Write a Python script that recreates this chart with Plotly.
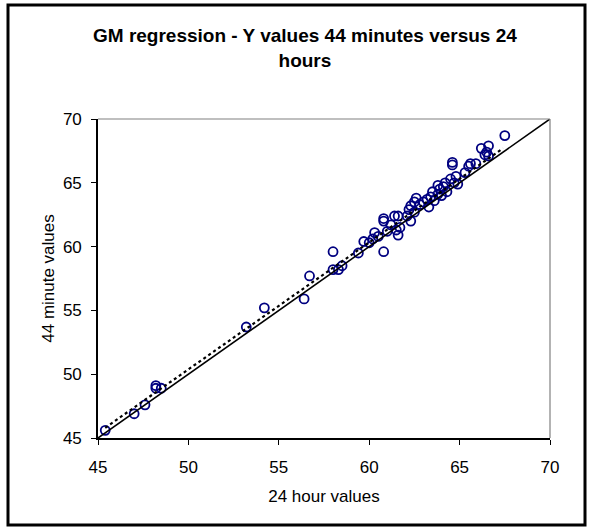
import plotly.graph_objects as go

# 24 hour values (x) and 44 minute values (y)
hours24 = [45.4, 47.0, 47.6, 48.2, 48.2, 48.5, 53.2, 54.2, 56.4, 56.7,
           58.0, 58.0, 58.3, 58.5, 59.4, 59.7, 60.0, 60.2, 60.3, 60.5,
           60.8, 60.8, 60.8, 61.0, 61.2, 61.4, 61.5, 61.6, 61.6, 61.7,
           62.1, 62.2, 62.3, 62.3, 62.5, 62.5, 62.6, 62.8, 63.0, 63.2,
           63.3, 63.4, 63.5, 63.6, 63.8, 63.8, 63.9, 64.0, 64.1, 64.2,
           64.3, 64.5, 64.6, 64.6, 64.7, 64.8, 64.9, 65.3, 65.5, 65.6,
           65.9, 66.2, 66.4, 66.5, 66.6, 66.6, 67.5]
minutes44 = [45.6, 46.9, 47.6, 49.1, 48.9, 48.9, 53.7, 55.2, 55.9, 57.7,
             59.6, 58.2, 58.2, 58.5, 59.5, 60.4, 60.3, 60.6, 61.1, 60.8,
             59.6, 62.0, 62.2, 61.2, 61.7, 62.4, 61.3, 62.4, 60.9, 61.5,
             62.4, 62.9, 62.0, 63.2, 63.5, 62.7, 63.8, 63.3, 63.5, 63.7,
             63.1, 63.9, 64.3, 63.6, 64.8, 64.1, 64.5, 64.0, 64.7, 65.0,
             64.3, 65.3, 66.4, 66.6, 65.0, 65.5, 64.9, 65.8, 66.3, 66.5,
             66.5, 67.7, 67.2, 67.4, 67.9, 67.1, 68.7]

# line of equality and GM regression line end points
identity_x = [45, 70]
identity_y = [45, 70]
gm_x = [45.4, 67.4]
gm_y = [45.8, 67.7]

tick_vals = [45, 50, 55, 60, 65, 70]

fig = go.Figure()
fig.add_trace(go.Scatter(
    x=hours24, y=minutes44, mode="markers",
    marker=dict(symbol="circle-open", size=9, color="#000080",
                line=dict(width=1.8, color="#000080")),
    showlegend=False, cliponaxis=False))
fig.add_trace(go.Scatter(
    x=gm_x, y=gm_y, mode="lines",
    line=dict(color="black", width=2.2, dash="dot"), showlegend=False))
fig.add_trace(go.Scatter(
    x=identity_x, y=identity_y, mode="lines",
    line=dict(color="black", width=1.6), showlegend=False))

W, H = 593, 532
L, R, T, B = 98, 550, 119, 438
pw, ph = R - L, B - T


def px_x(p):
    return (p - L) / pw


def px_y(p):
    return (B - p) / ph


font = "Liberation Sans, Arial, sans-serif"
axis_common = dict(
    range=[45, 70], tickvals=tick_vals, ticks="outside", ticklen=5,
    tickwidth=1.2, tickcolor="black", showline=True, linecolor="black",
    linewidth=1.6, showgrid=False, zeroline=False,
    tickfont=dict(family=font, size=17, color="black"),
)

fig.update_layout(
    width=W, height=H,
    margin=dict(l=L, r=W - R, t=T, b=H - B),
    paper_bgcolor="white", plot_bgcolor="white",
    font=dict(family=font, color="black"),
    xaxis=dict(**axis_common, ticklabelstandoff=8,
               title=dict(text="24 hour values", font=dict(size=17), standoff=14)),
    yaxis=dict(**axis_common, ticklabelstandoff=6,
               title=dict(text="44 minute values", font=dict(size=17), standoff=4)),
    annotations=[dict(
        text="<b>GM regression - Y values 44 minutes versus 24<br>hours</b>",
        x=px_x(305), y=px_y(48), xref="paper", yref="paper",
        xanchor="center", yanchor="middle", showarrow=False,
        font=dict(family=font, size=19, color="black"))],
    shapes=[
        # plot area frame (grey top and right edges)
        dict(type="line", xref="paper", yref="paper", x0=0, y0=1, x1=1, y1=1,
             line=dict(color="#808080", width=1.2)),
        dict(type="line", xref="paper", yref="paper", x0=1, y0=0, x1=1, y1=1,
             line=dict(color="#808080", width=1.2)),
        # chart border
        dict(type="rect", xref="paper", yref="paper",
             x0=px_x(8), y0=px_y(525), x1=px_x(585), y1=px_y(5),
             line=dict(color="black", width=3)),
    ],
)

fig.write_html("out.html")
